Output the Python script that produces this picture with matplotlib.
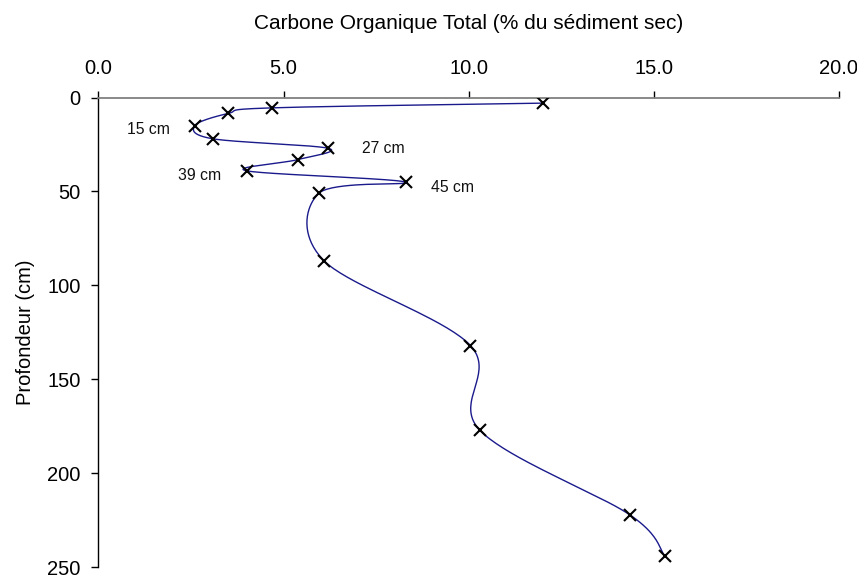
import matplotlib
matplotlib.use("Agg")
import matplotlib.pyplot as plt
import numpy as np

plt.rcParams["font.family"] = ["Liberation Sans", "DejaVu Sans"]

# Carbone organique total (%) et profondeur (cm)
cot = [12.0, 4.7, 3.5, 2.6, 3.1, 6.2, 5.4, 4.0, 8.3, 5.95, 6.1, 10.05, 10.3, 14.35, 15.3]
profondeur = [3, 5.5, 8.5, 15, 22, 27, 33, 39, 45, 51, 87, 132, 177, 222, 244]

etiquettes = ["15 cm", "27 cm", "39 cm", "45 cm"]
etiq_prof = [17, 27, 41.5, 48]
etiq_cot = [1.34, 7.7, 2.72, 9.56]

x_ticks = [0, 5, 10, 15, 20]
y_ticks = [0, 50, 100, 150, 200, 250]

NAVY = "#1a1a8c"


def lissage(x, y, n=40):
    """Courbe lissée façon Excel (Bezier type Catmull-Rom)."""
    p = np.column_stack([x, y]).astype(float)
    pts = np.vstack([p[0], p, p[-1]])
    out = []
    t = np.linspace(0, 1, n)[:, None]
    for i in range(1, len(pts) - 2):
        p0, p1, p2, p3 = pts[i - 1], pts[i], pts[i + 1], pts[i + 2]
        b1 = p1 + (p2 - p0) / 6
        b2 = p2 - (p3 - p1) / 6
        seg = ((1 - t) ** 3) * p1 + 3 * ((1 - t) ** 2) * t * b1 \
            + 3 * (1 - t) * t ** 2 * b2 + t ** 3 * p2
        out.append(seg)
    c = np.vstack(out)
    return c[:, 0], c[:, 1]


fig = plt.figure(figsize=(8.57, 5.79), dpi=100)
ax = fig.add_axes([0.1149, 0.0202, 0.8638, 0.8114])

cx, cy = lissage(cot, profondeur)
ax.plot(cx, cy, color=NAVY, linewidth=1.0, zorder=2)
ax.plot(cot, profondeur, linestyle="none", marker="x", color="black",
        markersize=9, markeredgewidth=1.5, zorder=3)

for txt, xv, yv in zip(etiquettes, etiq_cot, etiq_prof):
    ax.text(xv, yv, txt, fontsize=11.3, ha="center", va="center", color="#111111")

ax.set_xlim(0, 20)
ax.set_ylim(250, 0)
ax.set_xticks(x_ticks)
ax.set_xticklabels([f"{v:.1f}" for v in x_ticks])
ax.set_yticks(y_ticks)
ax.xaxis.tick_top()
ax.xaxis.set_label_position("top")
ax.set_xlabel("Carbone Organique Total (% du sédiment sec)", fontsize=15, labelpad=22)
ax.set_ylabel("Profondeur (cm)", fontsize=14.5, labelpad=9)

ax.spines["right"].set_visible(False)
ax.spines["bottom"].set_visible(False)
ax.spines["top"].set_color("#808080")
ax.spines["top"].set_linewidth(1.3)
ax.spines["left"].set_color("black")
ax.spines["left"].set_linewidth(1.0)
ax.tick_params(axis="x", direction="out", length=5, width=1, pad=9, labelsize=14.5)
ax.tick_params(axis="y", direction="out", length=5, width=1, pad=8, labelsize=14.5)

plt.savefig("out.png", dpi=100, facecolor="white")
plt.close()
